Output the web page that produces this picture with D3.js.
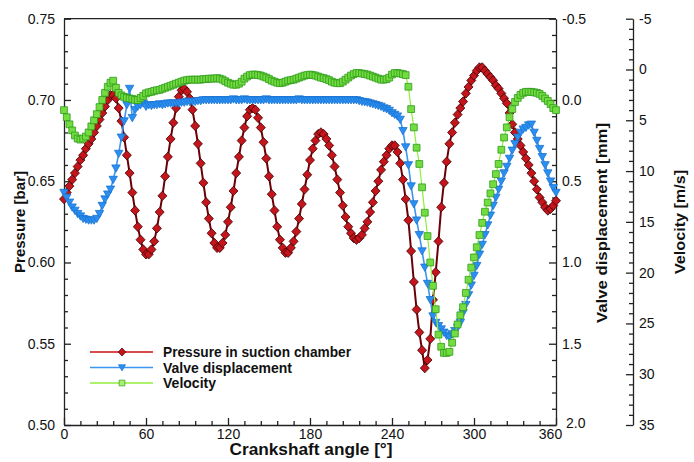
<!DOCTYPE html>
<html>
<head>
<meta charset="utf-8">
<script src="https://cdn.jsdelivr.net/npm/d3@7/dist/d3.min.js"></script>
<style>
    body { margin: 0; background: #fff; }
    svg { display: block; font-family: 'Liberation Sans', Arial, sans-serif; }
</style>
</head>
<body>
<svg id="chart" width="694" height="462"></svg>
<script>
// crank angle grid, one reading every 2 degrees
const angles = d3.range(0, 361, 2)

const pressure = [
    0.639, 0.643, 0.647, 0.651, 0.655, 0.659, 0.663, 0.666, 0.670, 0.673,
    0.676, 0.680, 0.684, 0.688, 0.692, 0.696, 0.700, 0.703, 0.703, 0.701,
    0.695, 0.687, 0.677, 0.666, 0.655, 0.643, 0.632, 0.622, 0.614, 0.608,
    0.605, 0.605, 0.608, 0.613, 0.621, 0.631, 0.641, 0.653, 0.665, 0.676,
    0.686, 0.695, 0.702, 0.706, 0.707, 0.705, 0.701, 0.694, 0.684, 0.673,
    0.661, 0.649, 0.637, 0.627, 0.618, 0.612, 0.609, 0.609, 0.612, 0.617,
    0.625, 0.634, 0.644, 0.655, 0.665, 0.675, 0.683, 0.690, 0.694, 0.695,
    0.694, 0.689, 0.683, 0.674, 0.664, 0.653, 0.642, 0.632, 0.622, 0.614,
    0.609, 0.606, 0.606, 0.609, 0.613, 0.619, 0.627, 0.636, 0.645, 0.654,
    0.663, 0.670, 0.675, 0.679, 0.680, 0.679, 0.676, 0.672, 0.666, 0.659,
    0.651, 0.643, 0.635, 0.628, 0.622, 0.618, 0.615, 0.614, 0.615, 0.617,
    0.621, 0.625, 0.631, 0.637, 0.644, 0.650, 0.657, 0.662, 0.666, 0.670,
    0.672, 0.672, 0.668, 0.661, 0.651, 0.639, 0.626, 0.607, 0.588, 0.571,
    0.557, 0.546, 0.535, 0.540, 0.553, 0.577, 0.594, 0.613, 0.634, 0.649,
    0.662, 0.673, 0.680, 0.686, 0.691, 0.695, 0.699, 0.704, 0.708, 0.712,
    0.715, 0.718, 0.720, 0.720, 0.718, 0.716, 0.714, 0.712, 0.709, 0.707,
    0.704, 0.701, 0.698, 0.692, 0.685, 0.680, 0.676, 0.672, 0.668, 0.664,
    0.660, 0.655, 0.650, 0.645, 0.640, 0.637, 0.634, 0.632, 0.633, 0.635,
    0.638
]

const valve = [
    0.57, 0.60, 0.63, 0.66, 0.68, 0.70, 0.715, 0.73, 0.735, 0.74,
    0.74, 0.74, 0.73, 0.70, 0.65, 0.61, 0.58, 0.55, 0.49, 0.42,
    0.33, 0.23, 0.13, 0.03, -0.07, 0.11, 0.06, 0.04, 0.03, 0.02,
    0.04, 0.03, 0.035, 0.03, 0.03, 0.025, 0.03, 0.025, 0.02, 0.02,
    0.02, 0.02, 0.02, 0.015, 0.015, 0.01, 0.01, 0.01, 0.01, 0.005,
    0.005, 0.0, 0.0, 0.0, 0.0, 0.0, 0.0, 0.0, 0.0, 0.0,
    0.0, 0.0, -0.005, 0.0, 0.0, 0.0, -0.005, 0.0, 0.0, 0.0,
    0.0, 0.0, 0.0, 0.0, -0.005, 0.0, 0.0, 0.0, 0.0, 0.0,
    0.0, 0.0, 0.0, 0.0, 0.0, 0.0, -0.005, 0.0, 0.0, 0.0,
    0.0, 0.0, 0.0, 0.0, 0.0, 0.0, 0.0, 0.0, 0.0, 0.0,
    0.0, 0.0, 0.0, 0.0, 0.0, 0.0, 0.0, 0.0, 0.005, 0.01,
    0.012, 0.015, 0.02, 0.025, 0.03, 0.035, 0.04, 0.05, 0.055, 0.065,
    0.08, 0.09, 0.10, 0.12, 0.19, 0.29, 0.40, 0.53, 0.64, 0.74,
    0.83, 0.93, 1.03, 1.13, 1.23, 1.33, 1.37, 1.39, 1.41, 1.43,
    1.45, 1.46, 1.44, 1.42, 1.40, 1.37, 1.31, 1.26, 1.20, 1.14,
    1.08, 1.02, 0.95, 0.89, 0.83, 0.77, 0.71, 0.65, 0.60, 0.55,
    0.50, 0.45, 0.41, 0.36, 0.31, 0.27, 0.23, 0.20, 0.18, 0.17,
    0.155, 0.15, 0.20, 0.25, 0.30, 0.35, 0.40, 0.45, 0.50, 0.54,
    0.57
]

const velocity = [
    4.0, 4.7, 5.4, 6.0, 6.5, 6.8, 6.9, 6.8, 6.6, 6.2,
    5.6, 5.0, 4.4, 3.7, 3.0, 2.3, 1.7, 1.3, 1.1, 1.8,
    2.3, 2.55, 2.7, 2.8, 2.85, 2.9, 3.0, 3.0, 2.8, 2.6,
    2.35, 2.25, 2.2, 2.1, 2.05, 2.0, 1.9, 1.8, 1.7, 1.6,
    1.5, 1.4, 1.3, 1.2, 1.1, 1.05, 1.0, 1.0, 1.0, 1.0,
    1.0, 0.95, 0.95, 0.9, 0.9, 0.9, 0.85, 0.9, 1.0, 1.15,
    1.3, 1.4, 1.5, 1.5, 1.4, 1.2, 0.9, 0.7, 0.55, 0.5,
    0.5, 0.55, 0.6, 0.7, 0.8, 0.95, 1.1, 1.2, 1.3, 1.35,
    1.3, 1.2, 1.1, 1.05, 1.0, 0.9, 0.8, 0.7, 0.6, 0.55,
    0.5, 0.55, 0.6, 0.7, 0.8, 0.85, 0.95, 1.05, 1.2, 1.3,
    1.35, 1.35, 1.2, 1.0, 0.8, 0.6, 0.45, 0.35, 0.35, 0.4,
    0.45, 0.5, 0.6, 0.7, 0.8, 0.9, 1.0, 1.0, 0.95, 0.8,
    0.5, 0.35, 0.35, 0.4, 0.45, 0.55, 1.7, 3.9, 5.7, 7.7,
    9.3, 11.6, 14.1, 16.4, 19.0, 21.3, 23.6, 26.1, 27.3, 27.9,
    27.9, 27.8, 26.9, 26.0, 25.1, 24.2, 23.4, 22.0, 20.7, 19.5,
    18.5, 17.5, 16.3, 15.1, 14.0, 13.1, 12.2, 11.3, 10.3, 9.3,
    7.9, 6.7, 5.7, 4.7, 3.9, 3.2, 2.8, 2.5, 2.3, 2.2,
    2.2, 2.2, 2.25, 2.3, 2.4, 2.6, 2.85, 3.1, 3.4, 3.8,
    4.0
]

const angleTicks = [0, 60, 120, 180, 240, 300, 360]
const pressureTicks = [0.50, 0.55, 0.60, 0.65, 0.70, 0.75]
const valveTicks = [-0.5, 0.0, 0.5, 1.0, 1.5, 2.0]
const velocityTicks = [-5, 0, 5, 10, 15, 20, 25, 30, 35]

const seriesNames = ['Pressure in suction chamber', 'Valve displacement', 'Velocity']

const plot = { left: 64, right: 556, top: 18.7, bottom: 425 }
const velocityAxisX = 633

const svg = d3.select('#chart')

const x = d3.scaleLinear().domain([0, 360]).range([plot.left, plot.right])
const yP = d3.scaleLinear().domain([0.5, 0.75]).range([plot.bottom, plot.top])
const yV = d3.scaleLinear().domain([-0.5, 2.0]).range([plot.top, plot.bottom])
const yU = d3.scaleLinear().domain([-5, 35]).range([plot.top, plot.bottom])

const styles = [
    { line: '#6a0006', width: 2, fill: '#c4141c', stroke: '#3a0000', shape: 'diamond' },
    { line: '#3a96f0', width: 1.6, fill: '#2a8ff2', stroke: '#1a74d0', shape: 'triangle' },
    { line: '#90ee3c', width: 1.2, fill: '#72dc40', stroke: '#2f9c1c', shape: 'square' }
]

const shapes = {
    diamond: 'M0,-4.7L4.5,0L0,4.7L-4.5,0Z',
    triangle: 'M-4.2,-3.3L4.2,-3.3L0,4Z',
    square: 'M-3.4,-3.4L3.4,-3.4L3.4,3.4L-3.4,3.4Z'
}

// minor ticks first, then the major ticks with labels
function minorAxis(axis, values) {
    return (g) => {
        g.call(axis.tickValues(values).tickSize(-4).tickSizeOuter(0).tickFormat(''))
        g.select('.domain').remove()
    }
}

const tickFont = (g) => g.selectAll('text')
    .attr('font-size', 14)
    .attr('fill', '#111')
    .attr('font-family', "'Liberation Sans', Arial, sans-serif")

const minor = (lo, hi, step, majors) => d3.range(lo, hi + step / 2, step)
    .filter((v) => !majors.some((m) => Math.abs(m - v) < step / 10))

svg.append('g')
    .attr('transform', `translate(${plot.left},0)`)
    .call(minorAxis(d3.axisLeft(yP), minor(0.5, 0.75, 0.01, pressureTicks)))
svg.append('g')
    .attr('transform', `translate(${plot.left},0)`)
    .call(d3.axisLeft(yP).tickValues(pressureTicks).tickSize(-7).tickSizeOuter(0)
        .tickPadding(9).tickFormat((d) => d.toFixed(2)))
    .call(tickFont)

svg.append('g')
    .attr('transform', `translate(0,${plot.bottom})`)
    .call(minorAxis(d3.axisBottom(x), minor(0, 360, 12, angleTicks)))
const xAxisG = svg.append('g')
    .attr('transform', `translate(0,${plot.bottom})`)
    .call(d3.axisBottom(x).tickValues(angleTicks).tickSize(-7).tickSizeOuter(0)
        .tickPadding(4).tickFormat((d) => String(d)))
    .call(tickFont)
// last angle label sits a little left, as in the original
xAxisG.selectAll('.tick text').filter((d) => d === 360).attr('dx', -6)

svg.append('g')
    .attr('transform', `translate(${plot.right},0)`)
    .call(minorAxis(d3.axisRight(yV), minor(-0.5, 2.0, 0.1, valveTicks)))
const valveAxisG = svg.append('g')
    .attr('transform', `translate(${plot.right},0)`)
    .call(d3.axisRight(yV).tickValues(valveTicks).tickSize(-7).tickSizeOuter(0)
        .tickPadding(6).tickFormat((d) => d.toFixed(1)))
    .call(tickFont)
valveAxisG.selectAll('.tick text').filter((d) => d === 2.0).attr('dx', 4).attr('dy', '0.2em')

svg.append('g')
    .attr('transform', `translate(${velocityAxisX},0)`)
    .call(minorAxis(d3.axisRight(yU), minor(-5, 35, 1, velocityTicks)))
svg.append('g')
    .attr('transform', `translate(${velocityAxisX},0)`)
    .call(d3.axisRight(yU).tickValues(velocityTicks).tickSize(-7).tickSizeOuter(0)
        .tickPadding(6).tickFormat((d) => String(d)))
    .call(tickFont)

svg.selectAll('.domain, .tick line').attr('stroke', '#222').attr('stroke-width', 1.3)

// top edge of the frame
svg.append('line')
    .attr('x1', plot.left).attr('x2', plot.right)
    .attr('y1', plot.top).attr('y2', plot.top)
    .attr('stroke', '#222').attr('stroke-width', 1.3)

// axis titles
const title = (text, tx, ty, rot, len, size) => svg.append('text')
    .attr('transform', `translate(${tx},${ty}) rotate(${rot})`)
    .attr('text-anchor', 'middle')
    .attr('font-weight', 'bold')
    .attr('font-size', size)
    .attr('textLength', len)
    .attr('lengthAdjust', 'spacingAndGlyphs')
    .attr('fill', '#111')
    .text(text)

title('Crankshaft angle [°]', 311, 455, 0, 163, 16)
title('Pressure [bar]', 25, 222, -90, 102, 15)
title('Valve displacement [mm]', 607, 223, -90, 200, 15)
title('Velocity [m/s]', 685, 222, -90, 104, 15)

// series
const series = [
    { values: pressure, y: yP },
    { values: valve, y: yV },
    { values: velocity, y: yU }
]

series.forEach((s, i) => {
    const st = styles[i]
    const pts = angles.map((a, j) => [x(a), s.y(s.values[j])])
    const g = svg.append('g')
    g.append('path')
        .attr('d', d3.line()(pts))
        .attr('fill', 'none')
        .attr('stroke', st.line)
        .attr('stroke-width', st.width)
    g.selectAll('path.mark')
        .data(pts)
        .join('path')
        .attr('class', 'mark')
        .attr('transform', (d) => `translate(${d[0]},${d[1]})`)
        .attr('d', shapes[st.shape])
        .attr('fill', st.fill)
        .attr('stroke', st.stroke)
        .attr('stroke-width', 0.8)
})

// legend
const legendRows = [352, 367.5, 383]
const legendLens = [188, 129, 53]
const legendLine = ['#cc1010', '#3a96f0', '#90ee3c']
const legend = svg.append('g')
seriesNames.forEach((name, i) => {
    const st = styles[i]
    const ly = legendRows[i]
    legend.append('line')
        .attr('x1', 90).attr('x2', 153).attr('y1', ly).attr('y2', ly)
        .attr('stroke', legendLine[i]).attr('stroke-width', 1.6)
    legend.append('path')
        .attr('transform', `translate(122,${ly}) scale(0.85)`)
        .attr('d', shapes[st.shape])
        .attr('fill', i === 2 ? '#a8f070' : st.fill)
        .attr('stroke', st.stroke)
        .attr('stroke-width', 0.8)
    legend.append('text')
        .attr('x', 163).attr('y', ly + 5)
        .attr('font-weight', 'bold')
        .attr('font-size', 14)
        .attr('textLength', legendLens[i])
        .attr('lengthAdjust', 'spacingAndGlyphs')
        .attr('fill', '#111')
        .text(name)
})
</script>
</body>
</html>
